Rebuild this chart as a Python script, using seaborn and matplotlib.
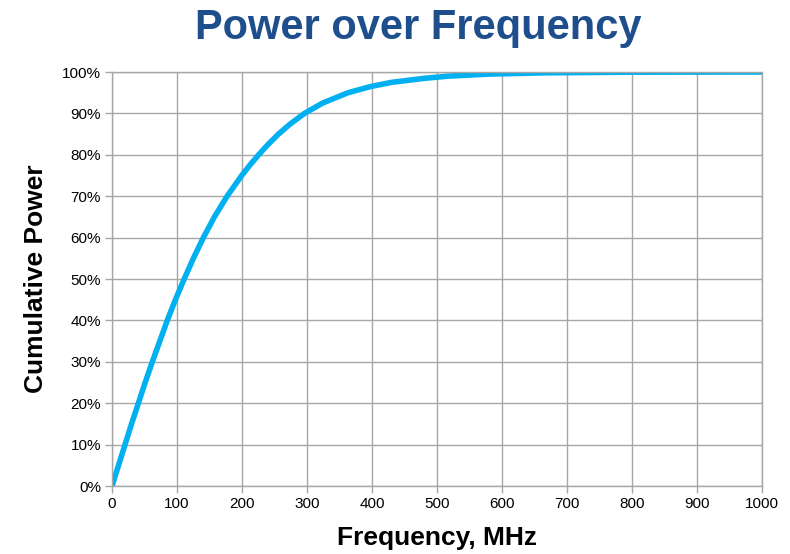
import pandas as pd
import matplotlib
matplotlib.use("Agg")
import matplotlib.pyplot as plt
import seaborn as sns
from matplotlib.ticker import PercentFormatter, MultipleLocator

# Values (frequency in MHz, cumulative power in %)
freq_mhz = [0, 10, 20, 30, 40.5, 51, 62, 73.5, 85, 97.5, 111, 125.2, 140.5, 157.5, 177,
            199.5, 212, 225.5, 240, 256, 274.5, 296, 324, 363, 398, 430, 482, 517,
            580, 665, 790, 950, 1000]
cum_power = [0, 5, 10, 15, 20, 25, 30, 35, 40, 45, 50, 55, 60, 65, 70,
             75, 77.5, 80, 82.5, 85, 87.5, 90, 92.5, 95, 96.5, 97.5, 98.5, 99,
             99.5, 99.8, 99.95, 100, 100]

df = pd.DataFrame({"Frequency": freq_mhz, "Power": cum_power})

sns.set_theme(style="whitegrid")
plt.rcParams['font.family'] = ['Liberation Sans', 'DejaVu Sans']

fig = plt.figure(figsize=(7.9, 5.54), dpi=100)
ax = fig.add_axes([0.1418, 0.1227, 0.8228, 0.7473])

sns.lineplot(data=df, x="Frequency", y="Power", color="#00B0F0", linewidth=4,
             sort=False, ax=ax)

ax.set_xlim(0, 1000)
ax.set_ylim(0, 100)
ax.xaxis.set_major_locator(MultipleLocator(100))
ax.yaxis.set_major_locator(MultipleLocator(10))
ax.yaxis.set_major_formatter(PercentFormatter(decimals=0))

ax.grid(True, color="#A6A6A6", linewidth=1.0)
for side in ax.spines.values():
    side.set_color("#A6A6A6")
    side.set_linewidth(1.0)
ax.tick_params(axis="both", which="major", length=5, width=1, color="#A6A6A6",
               labelsize=11, labelcolor="black", pad=3, direction="out")
ax.tick_params(bottom=True, left=True)

ax.set_xlabel("Frequency, MHz", fontsize=19, fontweight="bold", color="black", labelpad=11)
ax.set_ylabel("Cumulative Power", fontsize=19, fontweight="bold", color="black", labelpad=10)
fig.suptitle("Power over Frequency", fontsize=30, fontweight="bold", color="#1F4E8C",
             x=0.53, y=0.985)

fig.savefig("out.png", dpi=100)
